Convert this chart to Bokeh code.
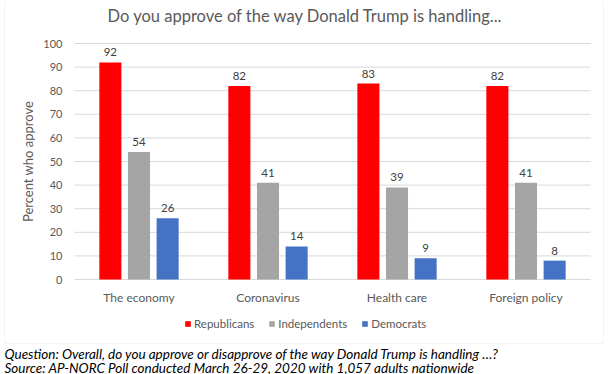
from bokeh.plotting import figure
from bokeh.models import (Label, Legend, LegendItem, ColumnDataSource, LinearAxis,
                          FixedTicker, Range1d, BoxAnnotation)
from bokeh.core.properties import value
from bokeh.embed import file_html
from bokeh.resources import INLINE

categories = ["The economy", "Coronavirus", "Health care", "Foreign policy"]
series = ["Republicans", "Independents", "Democrats"]
republicans = [92, 82, 83, 82]
independents = [54, 41, 39, 41]
democrats = [26, 14, 9, 8]
colors = ["#FF0000", "#A5A5A5", "#4472C4"]
y_ticks = [0, 10, 20, 30, 40, 50, 60, 70, 80, 90, 100]

title_text = "Do you approve of the way Donald Trump is handling..."
y_title = "Percent who approve"
note_question = "Question: Overall, do you approve or disapprove of the way Donald Trump is handling \u2026?"
note_source = "Source: AP-NORC Poll conducted March 26-29, 2020 with 1,057 adults nationwide"

FONT = "Lato"
GREY = "#595959"
GRID = "#D9D9D9"

W, H = 612, 374
cat_x = [i + 0.5 for i in range(len(categories))]
offsets = [-0.222, 0.0, 0.222]
bar_w = 0.171

p = figure(width=W, height=H, output_backend="svg", toolbar_location=None,
           x_axis_type=None, y_axis_type=None, title=None, min_border=0,
           x_range=Range1d(-0.5736, 4.1705), y_range=Range1d(-40.25, 118.22))
p.outline_line_color = None
p.grid.grid_line_color = None

# horizontal gridlines across the category span
p.segment(x0=[0] * len(y_ticks), x1=[len(categories)] * len(y_ticks),
          y0=y_ticks, y1=y_ticks, line_color=GRID, line_width=1)

renderers = []
for vals, off, color in zip([republicans, independents, democrats], offsets, colors):
    src = ColumnDataSource(dict(x=[c + off for c in cat_x], top=vals,
                                lbl=[str(v) for v in vals]))
    r = p.vbar(x="x", top="top", width=bar_w, fill_color=color, line_color=None, source=src)
    renderers.append(r)
    p.text(x="x", y="top", text="lbl", text_align="center", text_baseline="bottom",
           y_offset=-6, text_font_size="11.5px", text_color="#404040",
           text_font=value(FONT), source=src)

yaxis = LinearAxis(fixed_location=0, ticker=FixedTicker(ticks=y_ticks),
                   bounds=(y_ticks[0], y_ticks[-1]))
yaxis.axis_line_color = None
yaxis.major_tick_line_color = None
yaxis.minor_tick_line_color = None
yaxis.major_tick_in = 0
yaxis.major_tick_out = 0
yaxis.minor_tick_in = 0
yaxis.minor_tick_out = 0
yaxis.major_label_text_font = FONT
yaxis.major_label_text_font_size = "11px"
yaxis.major_label_text_color = GREY
yaxis.major_label_standoff = 12
yaxis.axis_label = y_title
yaxis.axis_label_text_font = FONT
yaxis.axis_label_text_font_size = "13px"
yaxis.axis_label_text_font_style = "normal"
yaxis.axis_label_text_color = GREY
yaxis.axis_label_standoff = 4
p.add_layout(yaxis, "left")

xaxis = LinearAxis(fixed_location=0, ticker=FixedTicker(ticks=cat_x),
                   bounds=(0, len(categories)),
                   major_label_overrides={x: c for x, c in zip(cat_x, categories)})
xaxis.axis_line_color = None
xaxis.major_tick_line_color = None
xaxis.minor_tick_line_color = None
xaxis.major_tick_in = 0
xaxis.major_tick_out = 0
xaxis.minor_tick_in = 0
xaxis.minor_tick_out = 0
xaxis.major_label_text_font = FONT
xaxis.major_label_text_font_size = "12px"
xaxis.major_label_text_color = GREY
xaxis.major_label_standoff = 10
p.add_layout(xaxis, "below")

legend = Legend(items=[LegendItem(label=s, renderers=[r]) for s, r in zip(series, renderers)],
                orientation="horizontal", location=(184, 44),
                glyph_width=7, glyph_height=7, label_standoff=3, spacing=14,
                padding=0, margin=0, label_text_font=FONT, label_text_font_size="11.5px",
                label_text_color=GREY, background_fill_alpha=0, border_line_color=None,
                label_height=14)
p.add_layout(legend, "center")

p.add_layout(Label(x=305, y=359, x_units="screen", y_units="screen", text=title_text,
                   text_align="center", text_baseline="middle",
                   text_font=FONT, text_font_size="16.5px", text_color=GREY))

p.add_layout(BoxAnnotation(left=4, right=603, top=380, bottom=31,
                           left_units="screen", right_units="screen",
                           top_units="screen", bottom_units="screen",
                           fill_color=None, fill_alpha=0, line_color=GRID, line_width=1))

p.add_layout(Label(x=4, y=21, x_units="screen", y_units="screen", text=note_question,
                   text_align="left", text_baseline="middle",
                   text_font=FONT, text_font_size="13.5px", text_font_style="italic",
                   text_color="#000000"))
p.add_layout(Label(x=4, y=7, x_units="screen", y_units="screen", text=note_source,
                   text_align="left", text_baseline="middle",
                   text_font=FONT, text_font_size="13.5px", text_font_style="italic",
                   text_color="#000000"))

open("out.html", "w").write(file_html(p, INLINE))
